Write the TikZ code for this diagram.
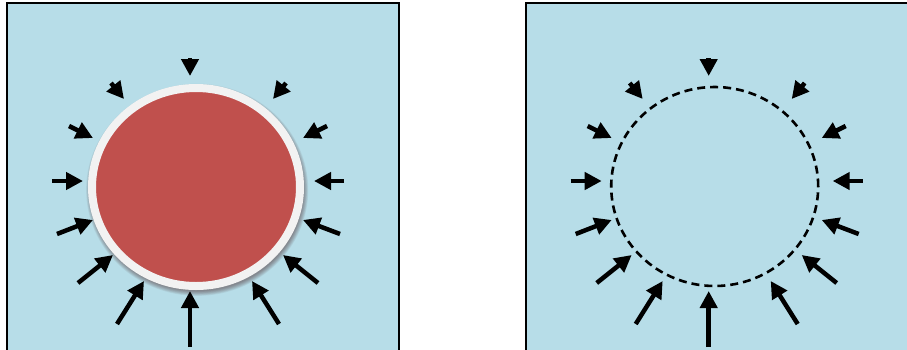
\documentclass[tikz,border=0pt]{standalone}
\usetikzlibrary{arrows.meta,shapes.geometric}
\definecolor{bgblue}{HTML}{B7DDE8}
\definecolor{cellred}{HTML}{C0504D}
\definecolor{ringwhite}{HTML}{F2F2F2}
\begin{document}
\begin{tikzpicture}[x=1pt,y=-1pt,
  panel/.style={fill=bgblue,draw=black,line width=1.5pt},
  push/.style={line width=4.5pt,-{Triangle[length=17pt,width=17pt]}},
  cellbody/.style={ellipse,inner sep=0pt,minimum width=208pt,minimum height=198pt,
                   fill=cellred,draw=ringwhite,line width=8pt},
  ghost/.style={ellipse,inner sep=0pt,minimum width=207pt,minimum height=199pt,
                draw=black,line width=2.6pt,dash pattern=on 8pt off 5pt}]
\useasboundingbox (0,0) rectangle (907,349);
\clip (0,0) rectangle (907,349);
\path[panel] (7,3) rectangle (399,360);
\path[panel] (526,3) rectangle (920,360);
% soft shadow
\foreach \i in {0,...,7}
  \fill[black!80!red,opacity=0.055] (197.2,189.8) ellipse ({106.5+\i*0.65} and {101.5+\i*0.65});
\node[cellbody] (cell) at (196,187) {};
\node[ghost] (membrane) at (714.7,186.5) {};
\foreach \ax/\ay/\bx/\by [count=\k] in {
  190/58/190/76, 111/83/124/99, 286/83/273/99, 69/126/93/138, 327/126/303/138,
  52/181/83/181, 344/181/314/181, 57/234/93/220, 340/234/303/220,
  78/283/113/255, 318/283/283/255, 117/324/144/281, 279/324/252/281, 190/347/190/291}{
  \coordinate (tL\k) at (\ax,\ay);
  \coordinate (hL\k) at (\bx,\by);
  \draw[push] (tL\k) -- (hL\k);
  \coordinate (tR\k) at (\ax+518.7,\ay);
  \coordinate (hR\k) at (\bx+518.7,\by);
  \draw[push] (tR\k) -- (hR\k);
}
\end{tikzpicture}
\end{document}
